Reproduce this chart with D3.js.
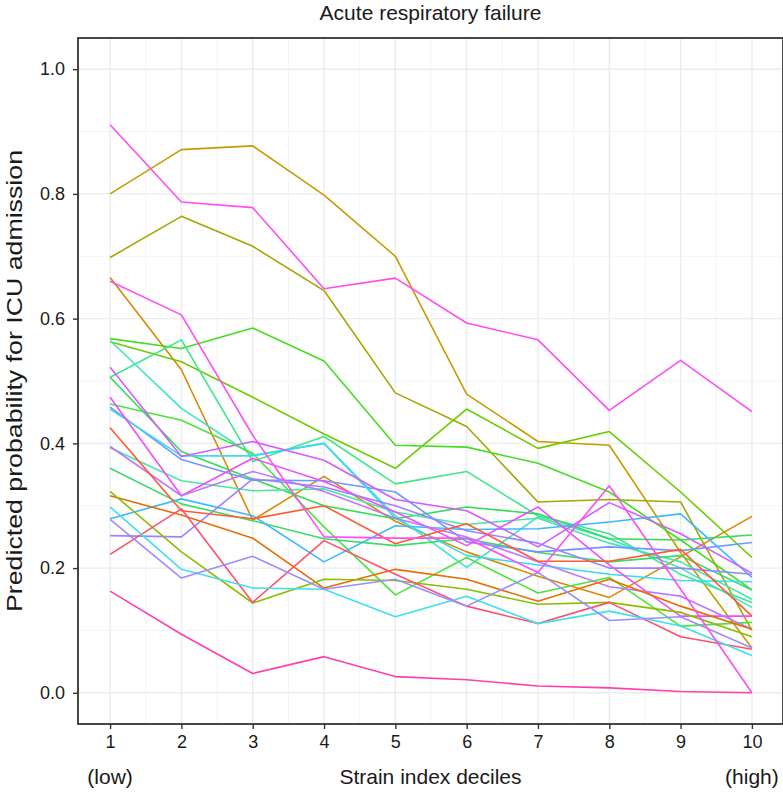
<!DOCTYPE html>
<html><head><meta charset="utf-8">
<script src="https://cdn.jsdelivr.net/npm/d3@7"></script>
<style>body{margin:0;background:#fff} text{font-family:"Liberation Sans",Arial,Helvetica,sans-serif}</style>
</head><body>
<svg id="chart" width="783" height="794"></svg>
<script>
// ---- data ----
const deciles = [1,2,3,4,5,6,7,8,9,10];
const xTickLabels = ["1","2","3","4","5","6","7","8","9","10"];
const yTicks = [0.0,0.2,0.4,0.6,0.8,1.0];
const yTickLabels = ["0.0","0.2","0.4","0.6","0.8","1.0"];

const magentaTop   = [0.911,0.787,0.778,0.648,0.665,0.593,0.566,0.453,0.533,0.451];
const goldHigh     = [0.800,0.871,0.877,0.798,0.700,0.479,0.403,0.397,0.225,0.072];
const oliveHigh    = [0.698,0.764,0.716,0.645,0.481,0.427,0.306,0.310,0.306,0.100];
const darkOrange   = [0.666,0.518,0.277,0.347,0.275,0.226,0.187,0.153,0.218,0.283];
const magentaDrop  = [0.660,0.606,0.413,0.250,0.248,0.248,0.193,0.332,0.166,0.000];
const limeGreen    = [0.563,0.531,0.474,0.415,0.360,0.455,0.392,0.419,0.322,0.217];
const brightGreen  = [0.568,0.552,0.585,0.532,0.397,0.394,0.368,0.322,0.245,0.165];
const tealGreen    = [0.506,0.566,0.371,0.411,0.335,0.355,0.284,0.255,0.190,0.145];
const cyanTeal     = [0.565,0.456,0.381,0.400,0.284,0.201,0.282,0.247,0.200,0.137];
const greenVee     = [0.463,0.437,0.384,0.266,0.157,0.217,0.160,0.185,0.107,0.113];
const greenMid     = [0.506,0.387,0.343,0.300,0.279,0.298,0.287,0.247,0.245,0.253];
const tealLight    = [0.393,0.340,0.324,0.327,0.290,0.270,0.280,0.240,0.210,0.150];
const greenLow     = [0.360,0.303,0.276,0.247,0.236,0.247,0.225,0.210,0.220,0.165];
const skyBlue      = [0.279,0.311,0.284,0.210,0.268,0.262,0.263,0.274,0.287,0.185];
const blue         = [0.458,0.374,0.341,0.340,0.322,0.242,0.226,0.234,0.228,0.241];
const cyan         = [0.455,0.380,0.380,0.400,0.280,0.220,0.205,0.190,0.180,0.178];
const purpleMagenta= [0.522,0.379,0.403,0.373,0.310,0.292,0.234,0.305,0.255,0.192];
const magentaMid   = [0.474,0.316,0.376,0.339,0.290,0.236,0.298,0.205,0.123,0.123];
const purple       = [0.395,0.316,0.355,0.323,0.280,0.250,0.210,0.170,0.155,0.102];
const violet       = [0.252,0.250,0.343,0.330,0.300,0.260,0.240,0.200,0.200,0.190];
const redOrange    = [0.425,0.292,0.279,0.300,0.239,0.271,0.211,0.211,0.230,0.123];
const orange       = [0.316,0.285,0.248,0.168,0.198,0.182,0.147,0.182,0.139,0.102];
const yellowGreen  = [0.323,0.226,0.144,0.182,0.180,0.166,0.142,0.145,0.129,0.090];
const redPink      = [0.222,0.295,0.145,0.244,0.190,0.139,0.111,0.145,0.090,0.070];
const pinkLow      = [0.163,0.094,0.031,0.058,0.026,0.021,0.011,0.008,0.002,0.000];
const cyanLow      = [0.298,0.198,0.168,0.166,0.122,0.155,0.111,0.131,0.107,0.060];
const lavender     = [0.278,0.184,0.219,0.166,0.182,0.139,0.193,0.116,0.122,0.072];

const seriesValues = [goldHigh,oliveHigh,darkOrange,limeGreen,brightGreen,tealGreen,cyanTeal,
  greenVee,greenMid,tealLight,greenLow,skyBlue,blue,cyan,purpleMagenta,magentaMid,purple,violet,
  redOrange,orange,yellowGreen,redPink,pinkLow,cyanLow,lavender,magentaDrop,magentaTop];
const seriesColors = ["#C99A00","#A6A600","#D88A00","#6ACD00","#45DE1E","#3DE68C","#3FE3C8",
  "#4DE33A","#34DC55","#48E6A8","#3ADB6A","#3CB8FF","#6E98FF","#3ED8F2","#D35CFF","#F04CFF","#BC78FF","#9C82FF",
  "#FF5B2E","#E96C00","#8BBE00","#FF4F6E","#FF3FAE","#3EE0EE","#9A8DFF","#FF4EF7","#FF4DF2"];

// ---- layout ----
const panel = {left: 78, right: 783, top: 38, bottom: 724};
const svg = d3.select("#chart");
const x = d3.scaleLinear().domain([0.55, 10.45]).range([panel.left, panel.right + 1]);
const y = d3.scaleLinear().domain([-0.05, 1.05]).range([panel.bottom, panel.top]);
const font = "'Liberation Sans', Arial, Helvetica, sans-serif";

// grid
const g = svg.append("g");
const xMinor = d3.range(1.5, 10, 1);
const yMinor = [0.1,0.3,0.5,0.7,0.9];
g.selectAll(".vx").data(xMinor).join("line")
  .attr("x1", d => x(d)).attr("x2", d => x(d)).attr("y1", panel.top).attr("y2", panel.bottom)
  .attr("stroke", "#F3F4F5").attr("stroke-width", 1);
g.selectAll(".hy").data(yMinor).join("line")
  .attr("y1", d => y(d)).attr("y2", d => y(d)).attr("x1", panel.left).attr("x2", panel.right)
  .attr("stroke", "#F3F4F5").attr("stroke-width", 1);
g.selectAll(".vX").data(deciles).join("line")
  .attr("x1", d => x(d)).attr("x2", d => x(d)).attr("y1", panel.top).attr("y2", panel.bottom)
  .attr("stroke", "#EAECEE").attr("stroke-width", 1.4);
g.selectAll(".hY").data(yTicks).join("line")
  .attr("y1", d => y(d)).attr("y2", d => y(d)).attr("x1", panel.left).attr("x2", panel.right)
  .attr("stroke", "#EAECEE").attr("stroke-width", 1.4);

// lines
const line = d3.line().x((d, i) => x(deciles[i])).y(d => y(d));
svg.append("g").selectAll("path").data(seriesValues).join("path")
  .attr("d", d => line(d)).attr("fill", "none")
  .attr("stroke", (d, i) => seriesColors[i]).attr("stroke-width", 1.6)
  .attr("stroke-linejoin", "round");

// panel border
svg.append("rect").attr("x", panel.left).attr("y", panel.top)
  .attr("width", panel.right - panel.left).attr("height", panel.bottom - panel.top)
  .attr("fill", "none").attr("stroke", "#333").attr("stroke-width", 1.8);

// axes
const xAxis = d3.axisBottom(x).tickValues(deciles).tickFormat((d, i) => xTickLabels[i]).tickSize(5).tickPadding(6);
const yAxis = d3.axisLeft(y).tickValues(yTicks).tickFormat((d, i) => yTickLabels[i]).tickSize(5).tickPadding(8);
const xa = svg.append("g").attr("transform", `translate(0,${panel.bottom})`).call(xAxis);
const ya = svg.append("g").attr("transform", `translate(${panel.left},0)`).call(yAxis);
[xa, ya].forEach(a => {
  a.select(".domain").remove();
  a.selectAll(".tick line").attr("stroke", "#333").attr("stroke-width", 1.4);
  a.selectAll(".tick text").attr("fill", "#1a1a1a").style("font-size", "18px").style("font-family", font);
});

// titles
const lab = (xx, yy, t, anchor) => svg.append("text").attr("x", xx).attr("y", yy)
  .attr("text-anchor", anchor || "middle").style("font-size", "21px").style("font-family", font)
  .attr("fill", "#1a1a1a").text(t);
lab((panel.left + panel.right) / 2, 20, "Acute respiratory failure");
lab((panel.left + panel.right) / 2, 784, "Strain index deciles");
lab(x(1), 784, "(low)");
lab(x(10), 784, "(high)");
svg.append("text")
  .attr("transform", `translate(22,${(panel.top + panel.bottom) / 2}) rotate(-90)`)
  .attr("text-anchor", "middle").style("font-size", "22px").style("font-family", font)
  .attr("textLength", 462).attr("lengthAdjust", "spacingAndGlyphs")
  .attr("fill", "#1a1a1a").text("Predicted probability for ICU admission");
</script>
</body></html>
